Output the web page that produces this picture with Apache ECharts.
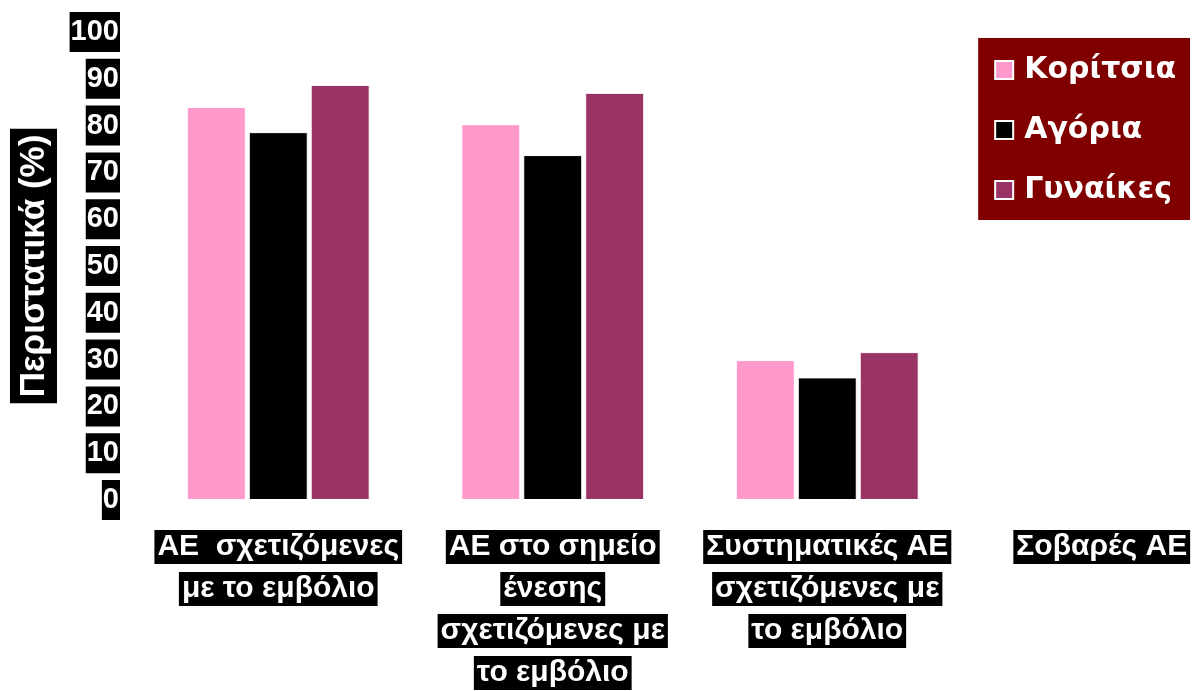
<!DOCTYPE html>
<html>
<head>
<meta charset="utf-8">
<script src="https://cdn.jsdelivr.net/npm/echarts@6/dist/echarts.min.js"></script>
<style>
  html, body { margin: 0; padding: 0; background: #fff; }
  #chart { width: 1196px; height: 691px; }
</style>
</head>
<body>
<div id="chart"></div>
<script>
const categories = [
  "ΑΕ  σχετιζόμενες\nμε το εμβόλιο",
  "ΑΕ στο σημείο\nένεσης\nσχετιζόμενες με\nτο εμβόλιο",
  "Συστηματικές ΑΕ\nσχετιζόμενες με\nτο εμβόλιο",
  "Σοβαρές ΑΕ"
];
const girls = [84, 80.3, 29.9, 0];
const boys = [78.6, 73.7, 26.2, 0];
const women = [88.7, 87, 31.6, 0];
const yTicks = [0, 10, 20, 30, 40, 50, 60, 70, 80, 90, 100];

const font = "Liberation Sans, Arial, sans-serif";
const legendFont = "DejaVu Sans, Verdana, sans-serif";

const chart = echarts.init(document.getElementById("chart"));

// ετικέτες με μαύρο φόντο ανά γραμμή
const boxLines = (txt) =>
  txt.split("\n").map((l) => "{b|" + l + "}").join("\n");

const barStyle = (color) => ({
  color: color,
  borderColor: "#fff",
  borderWidth: 1
});

const option = {
  animation: false,
  textStyle: { fontFamily: font },
  legend: {
    right: 6,
    top: 38,
    orient: "vertical",
    backgroundColor: "#800000",
    padding: [17, 14, 15, 16],
    itemGap: 30,
    itemWidth: 18,
    itemHeight: 18,
    icon: "rect",
    textStyle: {
      color: "#fff",
      fontSize: 30,
      fontWeight: "bold",
      fontFamily: legendFont,
      padding: [0, 0, 0, 6]
    },
    itemStyle: { borderColor: "#fff", borderWidth: 2 },
    data: ["Κορίτσια", "Αγόρια", "Γυναίκες"]
  },
  grid: {
    left: 141,
    top: 32,
    width: 1098,
    height: 468,
    outerBoundsMode: "none",
    containLabel: false
  },
  xAxis: {
    type: "category",
    data: categories,
    axisLine: { show: false },
    axisTick: { show: false },
    axisLabel: {
      interval: 0,
      margin: 26,
      hideOverlap: false,
      formatter: boxLines,
      rich: {
        b: {
          color: "#fff",
          backgroundColor: "#000",
          fontSize: 30,
          fontWeight: "bold",
          fontFamily: font,
          height: 34,
          lineHeight: 42,
          padding: [0, 3]
        }
      }
    }
  },
  yAxis: {
    type: "value",
    min: 0,
    max: 100,
    interval: 10,
    name: "Περιστατικά (%)",
    nameLocation: "middle",
    nameRotate: 90,
    nameGap: 84,
    nameTextStyle: {
      color: "#fff",
      backgroundColor: "#000",
      fontSize: 35,
      fontWeight: "bold",
      fontFamily: font,
      lineHeight: 40,
      padding: [4, 6, 3, 6]
    },
    axisLine: { show: false },
    axisTick: { show: false },
    splitLine: { show: false },
    axisLabel: {
      margin: 21,
      color: "#fff",
      backgroundColor: "#000",
      fontSize: 29,
      fontWeight: "bold",
      fontFamily: font,
      lineHeight: 40,
      padding: [0, 1],
      formatter: (v) => (yTicks.indexOf(v) >= 0 ? String(v) : "")
    }
  },
  series: [
    {
      name: "Κορίτσια",
      type: "bar",
      data: girls,
      barWidth: 59,
      barGap: "5%",
      itemStyle: barStyle("#FF99CC")
    },
    {
      name: "Αγόρια",
      type: "bar",
      data: boys,
      barWidth: 59,
      barGap: "5%",
      itemStyle: barStyle("#000000")
    },
    {
      name: "Γυναίκες",
      type: "bar",
      data: women,
      barWidth: 59,
      barGap: "5%",
      itemStyle: barStyle("#993366")
    }
  ]
};

chart.setOption(option);
</script>
</body>
</html>
